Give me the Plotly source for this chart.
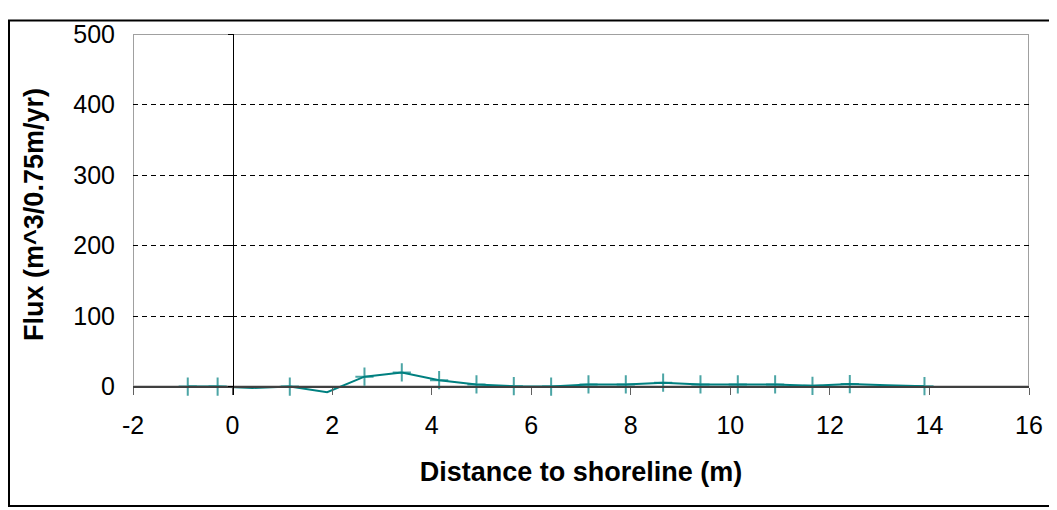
import plotly.graph_objects as go

distance = [-0.9, -0.3, 0.4, 1.15, 1.9, 2.65, 3.4, 4.15, 4.9, 5.65, 6.4,
            7.15, 7.9, 8.65, 9.4, 10.15, 10.9, 11.65, 12.4, 13.15, 13.9]
flux = [0, 0, -2, 0, -8, 14, 20, 9, 3, 0.5, 0,
        3, 3, 5.5, 3, 3, 3, 1, 3.5, 1.8, 0.5]
has_marker = [1, 1, 0, 1, 0, 1, 1, 1, 1, 1, 1,
              1, 1, 1, 1, 1, 1, 1, 1, 0, 1]
x_ticks = [-2, 0, 2, 4, 6, 8, 10, 12, 14, 16]
y_ticks = [0, 100, 200, 300, 400, 500]

teal = "#008080"
font = "Liberation Sans, Arial, sans-serif"

Y_MIN, Y_MAX = -12, 500
X_MIN, X_MAX = -2, 16

fig = go.Figure()
fig.add_trace(go.Scatter(
    x=distance, y=flux, mode="lines+markers",
    line=dict(color=teal, width=2),
    marker=dict(symbol="cross-thin", size=[13 if m else 0 for m in has_marker],
                line=dict(color=teal, width=2), color=teal),
    showlegend=False, cliponaxis=False,
))
# invisible trace for the vertical axis line at x = 0
fig.add_trace(go.Scatter(x=[0], y=[0], yaxis="y2", mode="markers",
                         marker=dict(opacity=0), showlegend=False, hoverinfo="skip"))

# page body has an 8px margin; figure coords = screen - 8
W, H = 1049, 502
L, T, R = 125, 15, 28
px_per_unit = 363 / 500
plot_h = (Y_MAX - Y_MIN) * px_per_unit
B = H - T - plot_h
pw, ph = W - L - R, plot_h

fig.update_layout(
    width=W, height=H,
    margin=dict(l=L, r=R, t=T, b=B, pad=0),
    paper_bgcolor="white", plot_bgcolor="white",
    font=dict(family=font, size=25, color="black"),
    xaxis=dict(
        range=[X_MIN, X_MAX], tickvals=x_ticks, ticktext=[str(v) for v in x_ticks],
        showgrid=False, zeroline=False,
        anchor="free", position=(0 - Y_MIN) / (Y_MAX - Y_MIN),
        showline=True, linecolor="#404040", linewidth=2,
        ticks="outside", ticklen=7, tickwidth=1, tickcolor="#606060",
        tickfont=dict(size=25), ticklabelstandoff=9,
        title=dict(text="<b>Distance to shoreline (m)</b>", font=dict(size=27), standoff=24),
    ),
    yaxis=dict(
        range=[Y_MIN, Y_MAX], tickvals=y_ticks, ticktext=[str(v) for v in y_ticks],
        showgrid=True, gridcolor="black", gridwidth=1, griddash="5px,4px",
        zeroline=False, showline=False, ticks="",
        tickfont=dict(size=25), ticklabelstandoff=17,
        title=dict(text="<b>Flux (m^3/0.75m/yr)</b>", font=dict(size=27), standoff=21),
    ),
    yaxis2=dict(
        range=[Y_MIN, Y_MAX], overlaying="y", anchor="free",
        position=(0 - X_MIN) / (X_MAX - X_MIN),
        tickvals=y_ticks, showticklabels=False, showgrid=False, zeroline=False,
        showline=True, linecolor="black", linewidth=1,
        ticks="outside", ticklen=5, tickcolor="black",
    ),
    shapes=[
        # plot frame (grey) from 0 to 500
        dict(type="rect", xref="x", yref="y", x0=X_MIN, x1=X_MAX, y0=0, y1=Y_MAX,
             line=dict(color="#a0a0a0", width=2), layer="below"),
        # outer chart border
        dict(type="rect", xref="paper", yref="paper",
             x0=(1 - L) / pw, x1=(W + 10 - L) / pw,
             y0=(H - B - 501) / ph, y1=(H - B - 1) / ph,
             line=dict(color="black", width=2)),
    ],
)

fig.write_html("out.html")
